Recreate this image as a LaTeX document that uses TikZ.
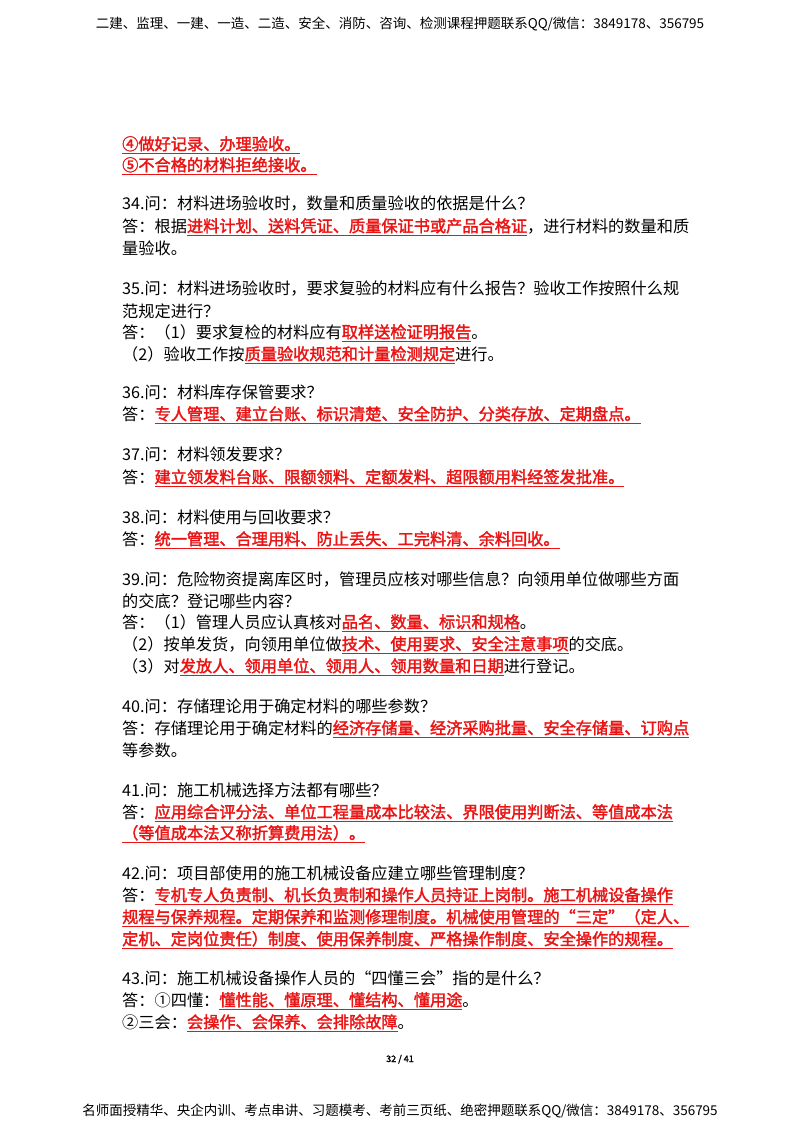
\documentclass[tikz,border=0pt]{standalone}
\usepackage{fontspec}
\setmainfont{Noto Sans CJK SC}[AutoFakeBold=2]
\definecolor{rd}{RGB}{235,20,20}
\newcommand{\rr}[1]{\textcolor{rd}{\underline{\textbf{#1}}}}
\begin{document}
\begin{tikzpicture}[x=1pt,y=-1pt,
  t/.style={anchor=base west,inner sep=0pt,font=\fontsize{16.2}{18}\selectfont},
  hf/.style={anchor=base,inner sep=0pt,font=\fontsize{13.5}{16}\selectfont}]
\useasboundingbox[fill=white] (0,0) rectangle (800,1132);
\node[hf] (h) at (400,29) {二建、监理、一建、一造、二造、安全、消防、咨询、检测课程押题联系QQ/微信：3849178、356795};
\node[t] (l1) at (122,150) {\rr{④做好记录、办理验收。}};
\node[t] (l2) at (122,171) {\rr{⑤不合格的材料拒绝接收。}};
\node[t] (l3) at (122,209) {34.问：材料进场验收时，数量和质量验收的依据是什么？};
\node[t] (l4) at (122,232) {答：根据\rr{进料计划、送料凭证、质量保证书或产品合格证}，进行材料的数量和质};
\node[t] (l5) at (122,254) {量验收。};
\node[t] (l6) at (122,294) {35.问：材料进场验收时，要求复验的材料应有什么报告？验收工作按照什么规};
\node[t] (l7) at (122,317) {范规定进行？};
\node[t] (l8) at (122,338) {答：（1）要求复检的材料应有\rr{取样送检证明报告}。};
\node[t] (l9) at (122,360) {（2）验收工作按\rr{质量验收规范和计量检测规定}进行。};
\node[t] (l10) at (122,398) {36.问：材料库存保管要求？};
\node[t] (l11) at (122,420) {答：\rr{专人管理、建立台账、标识清楚、安全防护、分类存放、定期盘点。}};
\node[t] (l12) at (122,460) {37.问：材料领发要求？};
\node[t] (l13) at (122,483) {答：\rr{建立领发料台账、限额领料、定额发料、超限额用料经签发批准。}};
\node[t] (l14) at (122,523) {38.问：材料使用与回收要求？};
\node[t] (l15) at (122,545) {答：\rr{统一管理、合理用料、防止丢失、工完料清、余料回收。}};
\node[t] (l16) at (122,585) {39.问：危险物资提离库区时，管理员应核对哪些信息？向领用单位做哪些方面};
\node[t] (l17) at (122,607) {的交底？登记哪些内容？};
\node[t] (l18) at (122,628) {答：（1）管理人员应认真核对\rr{品名、数量、标识和规格}。};
\node[t] (l19) at (122,650) {（2）按单发货，向领用单位做\rr{技术、使用要求、安全注意事项}的交底。};
\node[t] (l20) at (122,672) {（3）对\rr{发放人、领用单位、领用人、领用数量和日期}进行登记。};
\node[t] (l21) at (122,712) {40.问：存储理论用于确定材料的哪些参数？};
\node[t] (l22) at (122,734) {答：存储理论用于确定材料的\rr{经济存储量、经济采购批量、安全存储量、订购点}};
\node[t] (l23) at (122,756) {等参数。};
\node[t] (l24) at (122,796) {41.问：施工机械选择方法都有哪些？};
\node[t] (l25) at (122,818) {答：\rr{应用综合评分法、单位工程量成本比较法、界限使用判断法、等值成本法}};
\node[t] (l26) at (122,839) {\rr{（等值成本法又称折算费用法）。}};
\node[t] (l27) at (122,879) {42.问：项目部使用的施工机械设备应建立哪些管理制度？};
\node[t] (l28) at (122,901) {答：\rr{专机专人负责制、机长负责制和操作人员持证上岗制。施工机械设备操作}};
\node[t] (l29) at (122,923) {\rr{规程与保养规程。定期保养和监测修理制度。机械使用管理的“三定”（定人、}};
\node[t] (l30) at (122,945) {\rr{定机、定岗位责任）制度、使用保养制度、严格操作制度、安全操作的规程。}};
\node[t] (l31) at (122,984) {43.问：施工机械设备操作人员的“四懂三会”指的是什么？};
\node[t] (l32) at (122,1006) {答：①四懂：\rr{懂性能、懂原理、懂结构、懂用途}。};
\node[t] (l33) at (122,1028) {②三会：\rr{会操作、会保养、会排除故障}。};
\node[anchor=base,inner sep=0pt,font=\fontsize{9}{10}\selectfont\bfseries] (pg) at (400,1062) {32 / 41};
\node[hf] (f) at (400,1115) {名师面授精华、央企内训、考点串讲、习题模考、考前三页纸、绝密押题联系QQ/微信：3849178、356795};
\end{tikzpicture}
\end{document}
